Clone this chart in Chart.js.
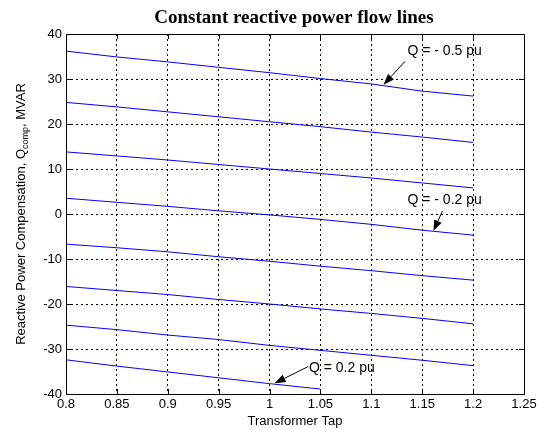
<!DOCTYPE html>
<html>
<head>
<meta charset="utf-8">
<script src="https://cdn.jsdelivr.net/npm/chart.js@4/dist/chart.umd.min.js"></script>
<style>
  html, body { margin: 0; padding: 0; background: #fff; }
  #wrap { width: 543px; height: 430px; position: relative; }
</style>
</head>
<body>
<div id="wrap"><canvas id="qChart"></canvas></div>
<script>
// transformer tap positions
var taps = [0.8, 0.85, 0.9, 0.95, 1.0, 1.05, 1.1, 1.15, 1.2];

// reactive power compensation Qcomp (MVAR) along each constant-Q line
var qNeg05 = [36.2, 34.9, 33.8, 32.6, 31.4, 30.1, 28.9, 27.3, 26.2];
var qNeg04 = [24.8, 23.8, 22.7, 21.6, 20.5, 19.4, 18.2, 17.1, 15.9];
var qNeg03 = [13.8, 12.9, 12.0, 11.0, 10.0, 9.0, 8.0, 6.9, 5.8];
var qNeg02 = [3.5, 2.6, 1.7, 0.7, -0.2, -1.2, -2.3, -3.6, -4.7];
var qNeg01 = [-6.7, -7.5, -8.4, -9.5, -10.5, -11.6, -12.6, -13.7, -14.7];
var qZero  = [-16.1, -17.0, -17.9, -19.0, -20.0, -21.1, -22.1, -23.2, -24.4];
var qPos01 = [-24.7, -25.7, -26.9, -27.9, -29.2, -30.3, -31.4, -32.5, -33.7];
var qPos02 = [-32.4, -33.8, -35.1, -36.4, -37.7, -38.9];

var xTicks = [0.8, 0.85, 0.9, 0.95, 1.0, 1.05, 1.1, 1.15, 1.2, 1.25];
var yTicks = [-40, -30, -20, -10, 0, 10, 20, 30, 40];

// labelled lines: text position and arrow tail/tip, in data units
var notes = [
    { text: 'Q = - 0.5 pu', tx: 1.172, ty: 36.1, fx: 1.133, fy: 33.9, px: 1.112, py: 28.7 },
    { text: 'Q = - 0.2 pu', tx: 1.172, ty: 3.1,  fx: 1.170, fy: 0.7,  px: 1.161, py: -3.8 },
    { text: 'Q = 0.2 pu',   tx: 1.071, ty: -34.3, fx: 1.038, fy: -33.9, px: 1.005, py: -37.6 }
];

var FONT = '"Liberation Sans", Arial, sans-serif';

function series(ys) {
    return ys.map(function (y, i) { return { x: taps[i], y: y }; });
}

function lineSet(label, ys) {
    return {
        label: label,
        data: series(ys),
        borderColor: '#0000ff',
        borderWidth: 1,
        pointRadius: 0,
        fill: false,
        tension: 0
    };
}

function fmt(v) {
    return String(Math.round(v * 100) / 100);
}

var decorPlugin = {
    id: 'decor',
    afterDraw: function (chart) {
        var ctx = chart.ctx;
        var a = chart.chartArea;
        var xs = chart.scales.x, ys = chart.scales.y;
        ctx.save();

        // inward tick marks on all four sides
        ctx.strokeStyle = '#000';
        ctx.lineWidth = 1;
        ctx.setLineDash([]);
        ctx.beginPath();
        xTicks.forEach(function (v) {
            var px = Math.round(xs.getPixelForValue(v)) + 0.5;
            ctx.moveTo(px, a.bottom); ctx.lineTo(px, a.bottom - 5);
            ctx.moveTo(px, a.top); ctx.lineTo(px, a.top + 5);
        });
        yTicks.forEach(function (v) {
            var py = Math.round(ys.getPixelForValue(v)) + 0.5;
            ctx.moveTo(a.left, py); ctx.lineTo(a.left + 5, py);
            ctx.moveTo(a.right, py); ctx.lineTo(a.right - 5, py);
        });
        ctx.stroke();

        // axes box
        ctx.strokeRect(Math.round(a.left) + 0.5, Math.round(a.top) + 0.5,
            Math.round(a.right - a.left), Math.round(a.bottom - a.top));

        // annotations with arrows
        ctx.fillStyle = '#000';
        ctx.font = '14px ' + FONT;
        ctx.textBaseline = 'middle';
        ctx.textAlign = 'center';
        notes.forEach(function (n) {
            ctx.fillText(n.text, xs.getPixelForValue(n.tx), ys.getPixelForValue(n.ty));
            var x0 = xs.getPixelForValue(n.fx), y0 = ys.getPixelForValue(n.fy);
            var x1 = xs.getPixelForValue(n.px), y1 = ys.getPixelForValue(n.py);
            var ang = Math.atan2(y1 - y0, x1 - x0);
            var len = 11, half = 4;
            var bx = x1 - len * Math.cos(ang), by = y1 - len * Math.sin(ang);
            ctx.beginPath();
            ctx.moveTo(x0, y0); ctx.lineTo(bx, by);
            ctx.stroke();
            ctx.beginPath();
            ctx.moveTo(x1, y1);
            ctx.lineTo(bx + half * Math.sin(ang), by - half * Math.cos(ang));
            ctx.lineTo(bx - half * Math.sin(ang), by + half * Math.cos(ang));
            ctx.closePath();
            ctx.fill();
        });

        // title
        ctx.font = 'bold 19px "Liberation Serif", "Times New Roman", serif';
        ctx.textAlign = 'center';
        ctx.fillText('Constant reactive power flow lines', 294, 18);

        // x axis title
        ctx.font = '13px ' + FONT;
        ctx.fillText('Transformer Tap', (a.left + a.right) / 2, 421);

        // y axis title with subscript
        var part1 = 'Reactive Power Compensation, Q', sub = 'comp', part2 = ', MVAR';
        ctx.font = '13px ' + FONT;
        var w1 = ctx.measureText(part1).width, w3 = ctx.measureText(part2).width;
        ctx.font = '9px ' + FONT;
        var w2 = ctx.measureText(sub).width;
        var total = w1 + w2 + w3;
        ctx.translate(20, (a.top + a.bottom) / 2);
        ctx.rotate(-Math.PI / 2);
        ctx.textAlign = 'left';
        ctx.textBaseline = 'alphabetic';
        ctx.font = '13px ' + FONT;
        ctx.fillText(part1, -total / 2, 5);
        ctx.font = '9px ' + FONT;
        ctx.fillText(sub, -total / 2 + w1, 8);
        ctx.font = '13px ' + FONT;
        ctx.fillText(part2, -total / 2 + w1 + w2, 5);

        ctx.restore();
    }
};

new Chart(document.getElementById('qChart').getContext('2d'), {
    type: 'line',
    data: {
        datasets: [
            lineSet('Q = -0.5 pu', qNeg05),
            lineSet('Q = -0.4 pu', qNeg04),
            lineSet('Q = -0.3 pu', qNeg03),
            lineSet('Q = -0.2 pu', qNeg02),
            lineSet('Q = -0.1 pu', qNeg01),
            lineSet('Q = 0 pu', qZero),
            lineSet('Q = 0.1 pu', qPos01),
            lineSet('Q = 0.2 pu', qPos02)
        ]
    },
    options: {
        responsive: true,
        maintainAspectRatio: false,
        animation: false,
        layout: { padding: { top: 34, right: 19, left: 0, bottom: 0 } },
        plugins: {
            legend: { display: false },
            tooltip: { enabled: false }
        },
        scales: {
            x: {
                type: 'linear',
                min: 0.8,
                max: 1.25,
                afterBuildTicks: function (s) { s.ticks = xTicks.map(function (v) { return { value: v }; }); },
                afterFit: function (s) { s.height = 36; },
                ticks: {
                    color: '#000',
                    font: { family: FONT, size: 13 },
                    padding: 3,
                    maxRotation: 0,
                    autoSkip: false,
                    callback: function (v) { return fmt(v); }
                },
                grid: {
                    color: '#000',
                    lineWidth: 1,
                    drawTicks: false
                },
                border: { display: false, dash: [2, 3] }
            },
            y: {
                min: -40,
                max: 40,
                afterBuildTicks: function (s) { s.ticks = yTicks.map(function (v) { return { value: v }; }); },
                afterFit: function (s) { s.width = 66; },
                ticks: {
                    color: '#000',
                    font: { family: FONT, size: 13 },
                    padding: 4,
                    autoSkip: false,
                    callback: function (v) { return fmt(v); }
                },
                grid: {
                    color: '#000',
                    lineWidth: 1,
                    drawTicks: false
                },
                border: { display: false, dash: [2, 3] }
            }
        }
    },
    plugins: [decorPlugin]
});
</script>
</body>
</html>
